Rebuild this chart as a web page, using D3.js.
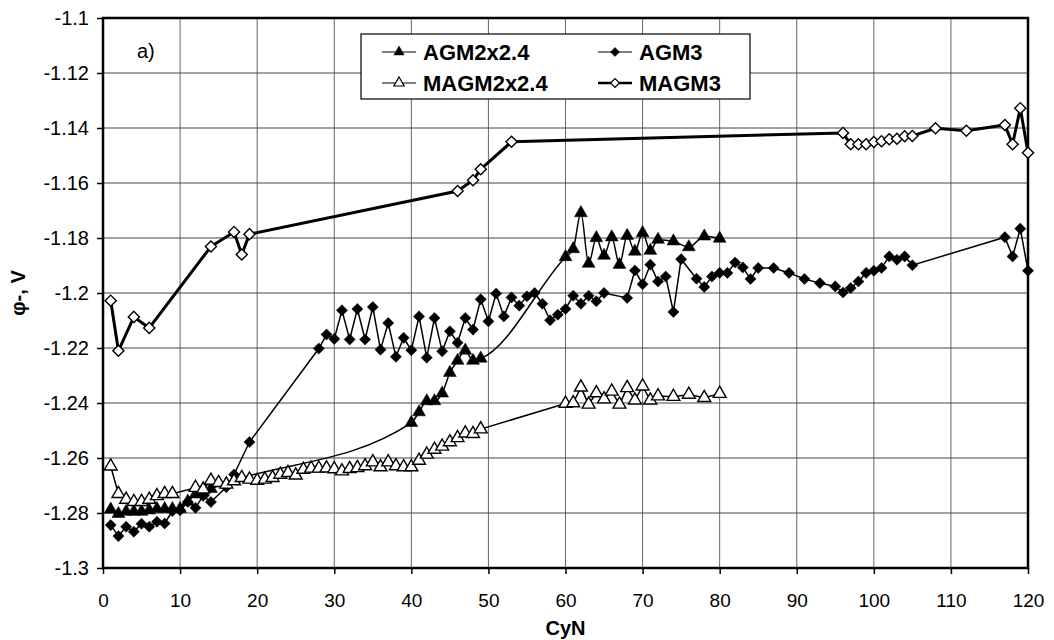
<!DOCTYPE html>
<html>
<head>
<meta charset="utf-8">
<script src="https://cdn.jsdelivr.net/npm/d3@7"></script>
<style>
  body { margin: 0; background: #fff; }
  svg text { font-family: "Liberation Sans", Arial, sans-serif; }
</style>
</head>
<body>
<svg id="chart"></svg>
<script>
// AGM2x2.4 (filled triangles)
const agm2Cy = [1, 2, 3, 4, 5, 6, 7, 8, 9, 10, 11, 12, 13, 14,
  40, 41, 42, 43, 44, 45, 46, 47, 48, 49,
  60, 61, 62, 63, 64, 65, 66, 67, 68, 69, 70, 71, 72, 74, 76, 78, 80];
const agm2Phi = [-1.2787, -1.2803, -1.2795, -1.2795, -1.2795, -1.279, -1.2785, -1.2785, -1.2785, -1.2785, -1.2758, -1.2732, -1.2724, -1.2712,
  -1.2472, -1.2433, -1.2393, -1.2393, -1.2365, -1.229, -1.2246, -1.2209, -1.2246, -1.2238,
  -1.1869, -1.184, -1.1709, -1.1893, -1.18, -1.1864, -1.1797, -1.1897, -1.1792, -1.1849, -1.1782, -1.1846, -1.1806, -1.1812, -1.1833, -1.1794, -1.1802];

// AGM3 (filled diamonds)
const agm3Cy = [1, 2, 3, 4, 5, 6, 7, 8, 9, 10, 11, 12, 13, 14, 16, 17, 19,
  28, 29, 30, 31, 32, 33, 34, 35, 36, 37, 38, 39, 40, 41, 42, 43, 44, 45, 46, 47, 48, 49,
  50, 51, 52, 53, 54, 55, 56, 57, 58, 59, 60, 61, 62, 63, 64, 65, 68, 69,
  70, 71, 72, 73, 74, 75, 77, 78, 79, 80, 81, 82, 83, 84, 85, 87, 89, 91, 93, 95,
  96, 97, 98, 99, 100, 101, 102, 103, 104, 105, 117, 118, 119, 120];
const agm3Phi = [-1.2844, -1.2884, -1.285, -1.2868, -1.2839, -1.285, -1.2832, -1.2838, -1.2793, -1.279, -1.276, -1.2781, -1.2738, -1.276, -1.2706, -1.266, -1.2542,
  -1.2202, -1.2151, -1.2167, -1.2063, -1.2169, -1.2058, -1.2169, -1.2051, -1.2206, -1.2109, -1.2232, -1.2163, -1.2208, -1.2085, -1.2235, -1.2091, -1.2212, -1.2139, -1.2181, -1.2091, -1.2133, -1.2023,
  -1.2103, -1.2002, -1.2085, -1.2016, -1.2046, -1.2012, -1.2, -1.2039, -1.2099, -1.2079, -1.2058, -1.201, -1.2039, -1.201, -1.203, -1.2, -1.2018, -1.1918,
  -1.1968, -1.1897, -1.1958, -1.194, -1.2069, -1.1877, -1.1948, -1.1978, -1.194, -1.1927, -1.1927, -1.1889, -1.1907, -1.1949, -1.1909, -1.1909, -1.1927, -1.1949, -1.1964, -1.1976,
  -1.1998, -1.1982, -1.1958, -1.1927, -1.1919, -1.1909, -1.1867, -1.1879, -1.1867, -1.1899, -1.1797, -1.1867, -1.1766, -1.1919];

// MAGM2x2.4 (open triangles)
const magm2Cy = [1, 2, 3, 4, 5, 6, 7, 8, 9, 12, 13, 14, 15, 16, 17, 18, 19, 20,
  21, 22, 23, 24, 25, 26, 27, 28, 29, 30, 31, 32, 33, 34, 35, 36, 37, 38, 39, 40,
  41, 42, 43, 44, 45, 46, 47, 48, 49,
  60, 61, 62, 63, 64, 65, 66, 67, 68, 69, 70, 71, 72, 74, 76, 78, 80];
const magm2Phi = [-1.263, -1.273, -1.2751, -1.2759, -1.2759, -1.2751, -1.2738, -1.273, -1.273, -1.2708, -1.2714, -1.2682, -1.269, -1.2696, -1.2684, -1.2672, -1.2678, -1.2682,
  -1.2678, -1.2672, -1.266, -1.2654, -1.2663, -1.2642, -1.2638, -1.2638, -1.2637, -1.264, -1.2648, -1.2639, -1.2636, -1.2629, -1.2615, -1.2633, -1.2615, -1.2629, -1.2633, -1.2633,
  -1.2609, -1.2587, -1.2569, -1.2558, -1.2542, -1.2527, -1.251, -1.2512, -1.2495,
  -1.2402, -1.24, -1.2343, -1.2405, -1.2364, -1.2386, -1.2358, -1.2405, -1.2345, -1.239, -1.2339, -1.239, -1.2375, -1.2377, -1.2369, -1.2381, -1.2366];

// MAGM3 (open diamonds)
const magm3Cy = [1, 2, 4, 6, 14, 17, 18, 19, 46, 48, 49, 53,
  96, 97, 98, 99, 100, 101, 102, 103, 104, 105, 108, 112, 117, 118, 119, 120];
const magm3Phi = [-1.2028, -1.221, -1.2087, -1.2127, -1.1831, -1.1778, -1.186, -1.1786, -1.1629, -1.159, -1.155, -1.145,
  -1.1418, -1.1459, -1.1459, -1.1459, -1.1451, -1.1448, -1.1441, -1.1439, -1.143, -1.1429, -1.1401, -1.141, -1.1389, -1.1459, -1.1328, -1.149];

const xTicks = d3.range(0, 121, 10);
const yTicks = [-1.3, -1.28, -1.26, -1.24, -1.22, -1.2, -1.18, -1.16, -1.14, -1.12, -1.1];
const yTickLabels = ["-1.3", "-1.28", "-1.26", "-1.24", "-1.22", "-1.2", "-1.18", "-1.16", "-1.14", "-1.12", "-1.1"];

const width = 1054;
const height = 640;
const margin = { top: 18, right: 26, bottom: 72, left: 103 };

const x = d3.scaleLinear().domain([0, 120]).range([margin.left, width - margin.right]);
const y = d3.scaleLinear().domain([-1.3, -1.1]).range([height - margin.bottom, margin.top]);

const svg = d3.select("#chart").attr("width", width).attr("height", height);

// grid
const grid = svg.append("g");
grid.selectAll(".gx").data(xTicks.slice(1, -1)).join("line")
  .attr("x1", d => x(d)).attr("x2", d => x(d))
  .attr("y1", y(-1.3)).attr("y2", y(-1.1))
  .attr("stroke", "#666").attr("stroke-width", 1);
grid.selectAll(".gy").data(yTicks.slice(1, -1)).join("line")
  .attr("x1", x(0)).attr("x2", x(120))
  .attr("y1", d => y(d)).attr("y2", d => y(d))
  .attr("stroke", "#444").attr("stroke-width", 1);

// axes
const xAxis = d3.axisBottom(x).tickValues(xTicks).tickSize(6).tickPadding(20).tickSizeOuter(0);
const gx = svg.append("g").attr("transform", `translate(0,${y(-1.3)})`).call(xAxis);
gx.select(".domain").remove();
gx.selectAll("text").attr("font-size", 19).attr("fill", "#000");
gx.selectAll("line").attr("stroke", "#000").attr("stroke-width", 1.5);

const yAxis = d3.axisLeft(y).tickValues(yTicks).tickFormat((d, i) => yTickLabels[i]).tickSize(6).tickPadding(8).tickSizeOuter(0);
const gy = svg.append("g").attr("transform", `translate(${x(0)},0)`).call(yAxis);
gy.select(".domain").remove();
gy.selectAll("text").attr("font-size", 20).attr("fill", "#000");
gy.selectAll("line").attr("stroke", "#000").attr("stroke-width", 1.5);

// plot frame
svg.append("rect")
  .attr("x", x(0)).attr("y", y(-1.1))
  .attr("width", x(120) - x(0)).attr("height", y(-1.3) - y(-1.1))
  .attr("fill", "none").attr("stroke", "#000").attr("stroke-width", 2.5);

// titles
svg.append("text").attr("x", (x(0) + x(120)) / 2).attr("y", 635)
  .attr("text-anchor", "middle").attr("font-size", 20).attr("font-weight", "bold").text("CyN");
svg.append("text").attr("transform", `translate(25,${y(-1.2)}) rotate(-90)`)
  .attr("text-anchor", "middle").attr("font-size", 20).attr("font-weight", "bold").text("φ-, V");
svg.append("text").attr("x", 137).attr("y", 58).attr("font-size", 20).text("a)");

// series
const tri = d3.symbol().type(d3.symbolTriangle).size(72);
const dia = d3.symbol().type(d3.symbolSquare).size(62);

const series = [
  { name: "AGM2x2.4", cy: agm2Cy, phi: agm2Phi, shape: tri, rot: 0, fill: "#000", lw: 1.5, curve: d3.curveMonotoneX },
  { name: "AGM3", cy: agm3Cy, phi: agm3Phi, shape: dia, rot: 45, fill: "#000", lw: 1.5, curve: d3.curveLinear },
  { name: "MAGM2x2.4", cy: magm2Cy, phi: magm2Phi, shape: tri, rot: 0, fill: "#fff", lw: 1.5, curve: d3.curveLinear },
  { name: "MAGM3", cy: magm3Cy, phi: magm3Phi, shape: dia, rot: 45, fill: "#fff", lw: 3, curve: d3.curveLinear }
];

const line = d3.line().x(d => x(d[0])).y(d => y(d[1]));

series.forEach(s => {
  const pts = s.cy.map((c, i) => [c, s.phi[i]]);
  const g = svg.append("g");
  g.append("path")
    .attr("d", line.curve(s.curve)(pts))
    .attr("fill", "none").attr("stroke", "#000").attr("stroke-width", s.lw);
  g.selectAll("path.m").data(pts).join("path").attr("class", "m")
    .attr("d", s.shape())
    .attr("transform", d => `translate(${x(d[0])},${y(d[1])}) rotate(${s.rot})`)
    .attr("fill", s.fill).attr("stroke", "#000").attr("stroke-width", s.fill === "#fff" ? 1.4 : 0.5);
});

// legend
const legend = svg.append("g");
legend.append("rect").attr("x", 361).attr("y", 34).attr("width", 389).attr("height", 65)
  .attr("fill", "#fff").attr("stroke", "#000").attr("stroke-width", 1.2);
const legPos = [[382, 52], [598, 52], [382, 83], [598, 83]];
series.forEach((s, i) => {
  const [lx, ly] = legPos[i];
  legend.append("line").attr("x1", lx).attr("x2", lx + 34).attr("y1", ly).attr("y2", ly)
    .attr("stroke", "#000").attr("stroke-width", s.lw === 3 ? 2.5 : 1.2);
  legend.append("path").attr("d", s.shape.size(s.shape === tri ? 46 : 40)())
    .attr("transform", `translate(${lx + 17},${ly}) rotate(${s.rot})`)
    .attr("fill", s.fill).attr("stroke", "#000").attr("stroke-width", s.fill === "#fff" ? 1.2 : 0.5);
  legend.append("text").attr("x", lx + 41).attr("y", ly).attr("dy", "0.36em")
    .attr("font-size", 22).attr("font-weight", "bold").text(s.name);
});
</script>
</body>
</html>
